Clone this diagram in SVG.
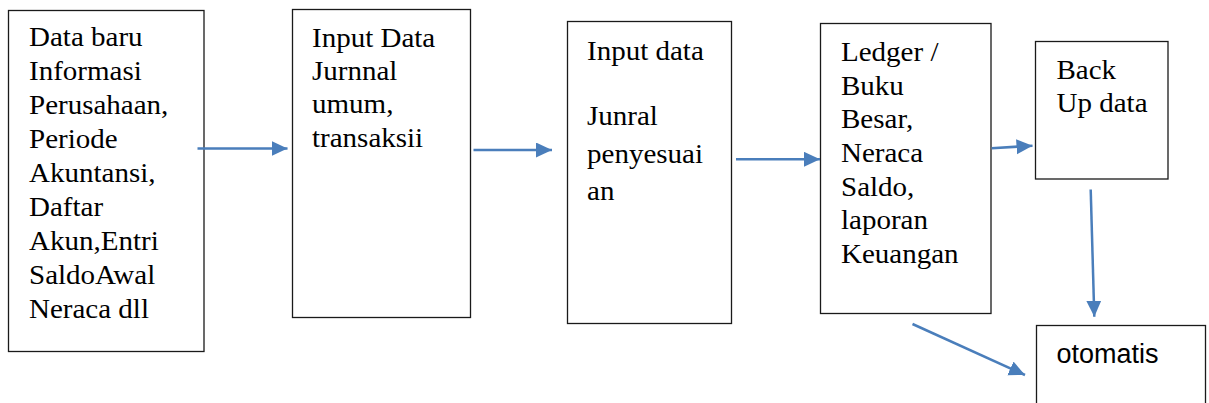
<svg xmlns="http://www.w3.org/2000/svg" width="1209" height="403" viewBox="0 0 1209 403">
<style>
.box{fill:#fff;stroke:#1a1a1a;stroke-width:1.3}
.t{font-family:'Liberation Serif','Times New Roman',serif;font-size:27px;fill:#000}
.s{font-family:'Liberation Sans',Arial,sans-serif;font-size:27px;fill:#000}
.c{stroke:#4a7ebb;stroke-width:2.5;fill:none;marker-end:url(#ah)}
</style>
<defs>
<marker id="ah" markerUnits="userSpaceOnUse" markerWidth="17" markerHeight="16" refX="16" refY="7.5" orient="auto" viewBox="0 0 17 16">
<path d="M0,0 L16,7.5 L0,15 z" fill="#4a7ebb"/>
</marker>
</defs>
<rect width="1209" height="403" fill="#fff"/>
<g id="n1">
<rect class="box" x="8.5" y="10.5" width="195.5" height="341"/>
<text class="t" transform="matrix(1.075,0,0,1,29,46)"><tspan x="0" y="0">Data baru</tspan><tspan x="0" y="34">Informasi</tspan><tspan x="0" y="68">Perusahaan,</tspan><tspan x="0" y="102">Periode</tspan><tspan x="0" y="136">Akuntansi,</tspan><tspan x="0" y="170">Daftar</tspan><tspan x="0" y="204">Akun,Entri</tspan><tspan x="0" y="238">SaldoAwal</tspan><tspan x="0" y="272">Neraca dll</tspan></text>
</g>
<g id="n2">
<rect class="box" x="292.5" y="9.5" width="178" height="308"/>
<text class="t" transform="matrix(1.075,0,0,1,312,46.5)"><tspan x="0" y="0">Input Data</tspan><tspan x="0" y="33.5">Jurnnal</tspan><tspan x="0" y="67">umum,</tspan><tspan x="0" y="100.5">transaksii</tspan></text>
</g>
<g id="n3">
<rect class="box" x="567.5" y="21.5" width="164" height="302"/>
<text class="t" transform="matrix(1.075,0,0,1,587,59.5)"><tspan x="0" y="0">Input data</tspan><tspan x="0" y="66">Junral</tspan><tspan x="0" y="103.5">penyesuai</tspan><tspan x="0" y="141">an</tspan></text>
</g>
<g id="n4">
<rect class="box" x="820.5" y="23.5" width="170.5" height="290"/>
<text class="t" transform="matrix(1.075,0,0,1,841,61)"><tspan x="0" y="0">Ledger /</tspan><tspan x="0" y="33.7">Buku</tspan><tspan x="0" y="67.4">Besar,</tspan><tspan x="0" y="101.1">Neraca</tspan><tspan x="0" y="134.8">Saldo,</tspan><tspan x="0" y="168.5">laporan</tspan><tspan x="0" y="202.2">Keuangan</tspan></text>
</g>
<g id="n5">
<rect class="box" x="1035.5" y="41.5" width="132.5" height="137.5"/>
<text class="t" transform="matrix(1.075,0,0,1,1056.5,79)"><tspan x="0" y="0">Back</tspan><tspan x="0" y="32.7">Up data</tspan></text>
</g>
<g id="n6">
<rect class="box" x="1036.5" y="325.5" width="169" height="100"/>
<text class="s" x="1056.5" y="363">otomatis</text>
</g>
<g id="connectors">
<line class="c" x1="197.5" y1="148.5" x2="287.5" y2="148.5"/>
<line class="c" x1="473.5" y1="150" x2="552" y2="150"/>
<line class="c" x1="736" y1="159.3" x2="820" y2="159.3"/>
<line class="c" x1="991.7" y1="148.3" x2="1032.5" y2="145.7"/>
<line class="c" x1="1090.7" y1="189.5" x2="1094.3" y2="316.7"/>
<line class="c" x1="912.5" y1="324" x2="1025" y2="375"/>
</g>
</svg>
